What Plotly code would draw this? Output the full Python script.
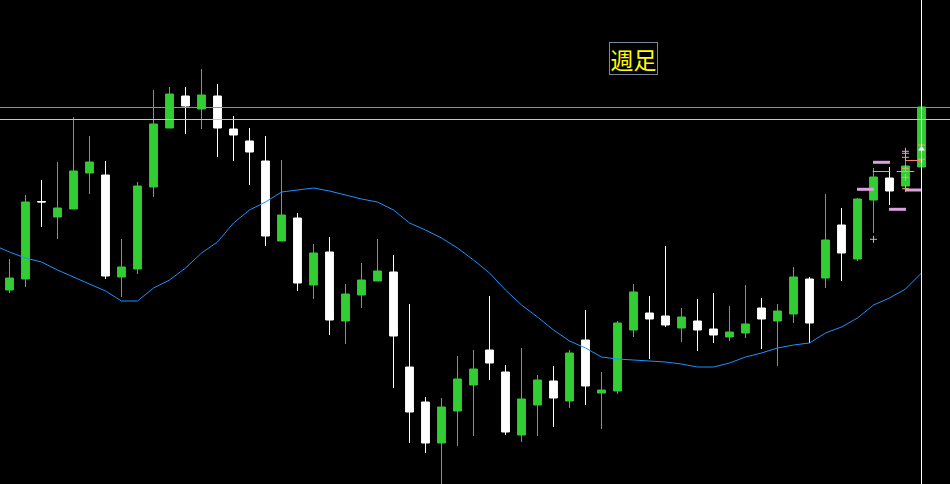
import plotly.graph_objects as go

# weekly candles, values in chart units
OPEN = [194, 205, 282.5, 267, 275, 311, 309, 207, 215, 297,
        356, 388, 375, 388, 355, 343, 323, 243, 266, 199,
        232, 163, 189, 203, 212, 117, 82, 41, 73, 99,
        134, 112, 49, 79, 103, 83, 144, 91, 93, 154,
        171, 168, 156, 163, 155, 147, 151, 176, 163, 170,
        205, 206, 259, 225, 284, 306, 298, 317]
HIGH = [225, 289, 304, 322, 367, 348, 323, 245, 302, 394,
        397, 397, 415, 400, 368, 356, 348, 324, 271, 240,
        247, 200, 221, 245, 229, 180, 87, 86, 128, 134,
        188, 119, 136, 109, 118, 134, 174, 112, 163, 200,
        188, 238, 176, 185, 191, 178, 199, 186, 180, 217,
        207, 290, 276, 286, 316, 317, 333, 377]
LOW = [191, 197, 257, 245, 275, 290, 205, 187, 210, 287,
       356, 350, 355, 327, 323, 299, 238, 243, 193, 185,
       149, 140, 176, 203, 96, 41, 31, -5, 38, 48,
       104, 49, 42, 48, 57, 76, 79, 55, 90, 147,
       125, 157, 142, 133, 141, 143, 146, 135, 118, 161,
       141, 196, 203, 223, 251, 279, 294, 317]
CLOSE = [206, 282, 282, 276, 313, 322, 208, 217, 298, 360,
         390, 378, 389, 356, 349, 332, 248, 269, 201, 231,
         164, 190, 204, 213, 148, 72, 41, 77, 105, 115,
         121, 52, 85, 104, 86, 131, 98, 94, 161, 192,
         165, 159, 167, 154, 149, 152, 160, 165, 173, 207,
         161, 244, 231, 285, 307, 293, 318, 377]

# moving average, starting one bar before the first candle
MA = [239, 232, 226, 222, 214, 207, 200, 193, 183, 183, 196,
      204, 216, 231, 242, 261, 274, 282, 292, 294, 296,
      293, 289, 285, 282, 274, 261, 254, 246, 236, 224,
      211, 194, 179, 167, 154, 143, 136, 127, 125, 124,
      123, 122, 120, 117, 117, 121, 127, 131, 136, 139,
      141, 151, 157, 166, 179, 186, 195, 211]

# horizontal lines and the current-bar marker
H_GREY = 376.5
H_YELLOW = 364.5
CURSOR_BAR = 57

# pink level bars (centre bar, level)
PINK_THICK_X = [54.5, 53.5, 56.5, 55.5]
PINK_THICK_Y = [321.7, 294.7, 294, 274.7]
PINK_THIN_X = [54.5, 56]
PINK_THIN_Y = [312.5, 312.5]
ORANGE_X = [56.5]
ORANGE_Y = [323.5]
CROSS_PINK_X = [54, 56, 56]
CROSS_PINK_Y = [244.7, 332.7, 330.7]
CROSS_ORANGE_X = [56, 56, 56, 56, 57, 57]
CROSS_ORANGE_Y = [326.7, 315.7, 306.7, 295.3, 339, 324.7]

GREEN = "#32cd32"
BG = "#000000"

x = list(range(len(OPEN)))

fig = go.Figure()

fig.add_trace(go.Scatter(x=list(range(-1, len(MA) - 1)), y=MA, mode="lines",
                         line=dict(color="#1e90ff", width=1), hoverinfo="skip"))

fig.add_trace(go.Candlestick(
    x=x, open=OPEN, high=HIGH, low=LOW, close=CLOSE,
    increasing=dict(line=dict(color=GREEN, width=1), fillcolor=GREEN),
    decreasing=dict(line=dict(color="#ffffff", width=1), fillcolor="#ffffff"),
    hoverinfo="skip"))


def segments(xs, ys, half):
    sx, sy = [], []
    for cx, cy in zip(xs, ys):
        sx += [cx - half, cx + half, None]
        sy += [cy, cy, None]
    return sx, sy


sx, sy = segments(PINK_THICK_X, PINK_THICK_Y, 0.53)
fig.add_trace(go.Scatter(x=sx, y=sy, mode="lines",
                         line=dict(color="#dda0dd", width=3), hoverinfo="skip"))
sx, sy = segments(PINK_THIN_X, PINK_THIN_Y, 0.55)
fig.add_trace(go.Scatter(x=sx, y=sy, mode="lines",
                         line=dict(color="#c8a0d0", width=1), hoverinfo="skip"))
sx, sy = segments(ORANGE_X, ORANGE_Y, 0.5)
fig.add_trace(go.Scatter(x=sx, y=sy, mode="lines",
                         line=dict(color="#f08070", width=1), hoverinfo="skip"))
fig.add_trace(go.Scatter(x=CROSS_PINK_X, y=CROSS_PINK_Y, mode="markers",
                         marker=dict(symbol="cross-thin", size=5,
                                     line=dict(color="#dda0dd", width=1)),
                         hoverinfo="skip"))
fig.add_trace(go.Scatter(x=CROSS_ORANGE_X, y=CROSS_ORANGE_Y, mode="markers",
                         marker=dict(symbol="cross-thin", size=5,
                                     line=dict(color="#f4a070", width=1)),
                         hoverinfo="skip"))
fig.add_trace(go.Scatter(x=[CURSOR_BAR], y=[335], mode="markers",
                         marker=dict(symbol="triangle-up", size=6, color="#ffffff"),
                         hoverinfo="skip"))

fig.add_hline(y=H_GREY, line=dict(color="#8a949e", width=1))
fig.add_hline(y=H_YELLOW, line=dict(color="#f0d020", width=1))
fig.add_vline(x=CURSOR_BAR, line=dict(color="#ffffff", width=1))

fig.add_annotation(xref="paper", yref="paper", x=633.5 / 950, y=1 - 58.5 / 484,
                   xanchor="center", yanchor="middle",
                   text="週足", showarrow=False, width=47, height=31,
                   bordercolor="#7a8a9a", borderwidth=1, borderpad=0,
                   font=dict(family="Noto Sans CJK JP", size=23, color="#ffff00"))

fig.update_layout(
    width=950, height=484, paper_bgcolor=BG, plot_bgcolor=BG,
    margin=dict(l=0, r=0, t=0, b=0), showlegend=False,
    boxgap=0.3, hovermode=False)
fig.update_xaxes(visible=False, range=[-9.5 / 16, (950 - 9.5) / 16],
                 rangeslider=dict(visible=False))
fig.update_yaxes(visible=False, range=[0, 484])

fig.write_html("out.html", config=dict(displayModeBar=False),
               post_script="document.body.style.margin='0';"
                           "document.body.style.background='#000';"
                           "document.body.style.overflow='hidden';")
